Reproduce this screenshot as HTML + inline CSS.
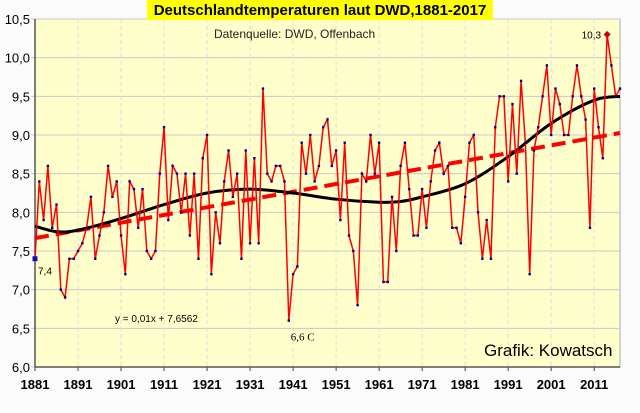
<!DOCTYPE html>
<html><head><meta charset="utf-8">
<style>
body{margin:0;width:640px;height:413px;background:#fbfbfb;overflow:hidden;font-family:"Liberation Sans",sans-serif}
svg{position:absolute;left:0;top:0}
</style></head><body>
<svg id="chart" width="640" height="413"></svg>
<script>
const years=[];for(let y=1881;y<=2017;y++)years.push(y);
const temps=[7.4,8.4,7.9,8.6,7.8,8.1,7.0,6.9,7.4,7.4,7.5,7.6,7.8,8.2,7.4,7.7,8.0,8.6,8.2,8.4,
7.7,7.2,8.4,8.3,7.8,8.3,7.5,7.4,7.5,8.5,9.1,7.9,8.6,8.5,8.0,8.5,7.7,8.5,7.4,8.7,
9.0,7.2,8.0,7.6,8.4,8.8,8.2,8.5,7.4,8.8,7.6,8.7,7.6,9.6,8.5,8.4,8.6,8.6,8.4,6.6,
7.2,7.3,8.9,8.5,9.0,8.4,8.6,9.1,9.2,8.6,8.8,7.9,8.9,7.7,7.5,6.8,8.5,8.4,9.0,8.5,
8.9,7.1,7.1,8.2,7.5,8.6,8.9,8.3,7.7,7.7,8.3,7.8,8.4,8.8,8.9,8.5,8.6,7.8,7.8,7.6,
8.2,8.9,9.0,8.0,7.4,7.9,7.4,9.1,9.5,9.5,8.4,9.4,8.5,9.7,8.9,7.2,8.8,9.1,9.5,9.9,
9.0,9.6,9.4,9.0,9.0,9.5,9.9,9.5,9.2,7.8,9.6,9.1,8.7,10.3,9.9,9.5,9.6];
const smoothYears=[1881,1886,1891,1901,1911,1921,1931,1941,1951,1961,1966,1971,1981,1991,2001,2011,2017];
const smoothVals=[7.82,7.75,7.77,7.92,8.1,8.25,8.3,8.25,8.17,8.13,8.14,8.2,8.37,8.72,9.15,9.45,9.5];
const trendSlope=0.01, trendIntercept=7.6562;
const yTicks=[6.0,6.5,7.0,7.5,8.0,8.5,9.0,9.5,10.0,10.5];
const xTicks=[1881,1891,1901,1911,1921,1931,1941,1951,1961,1971,1981,1991,2001,2011];

const L=35,R=620,T=19,B=367;
const X=y=>L+(y-1881)*(R-L)/(2017-1881);
const Y=v=>B-(v-6)*(B-T)/4.5;
const svg=document.getElementById('chart');
const NS='http://www.w3.org/2000/svg';
function mk(tag,attrs,name){const e=document.createElementNS(NS,tag);for(const k in attrs)e.setAttribute(k,attrs[k]);


svg.appendChild(e);return e;}
mk('rect',{x:L,y:T,width:R-L,height:B-T,fill:'#ffffcc',stroke:'#aaa','stroke-width':1},'plot-area');
yTicks.forEach(v=>{mk('line',{x1:L-4,x2:R,y1:Y(v),y2:Y(v),stroke:'#c8c8c8','stroke-width':1},'y-gridline');
const t=mk('text',{x:L-5,y:Y(v)+5,'text-anchor':'end','font-size':13,fill:'#000'},'y-tick-label');t.textContent=v.toFixed(1).replace('.',',');});
xTicks.forEach(yr=>{if(yr>1881)mk('line',{x1:X(yr),x2:X(yr),y1:T,y2:B,stroke:'#ddd','stroke-dasharray':'4,3'},'x-gridline');
mk('line',{x1:X(yr),x2:X(yr),y1:B,y2:B+4,stroke:'#444'},'x-tick');
const t=mk('text',{x:X(yr),y:B+22,'text-anchor':'middle','font-size':13,'font-weight':'bold',fill:'#000'},'x-tick-label');t.textContent=yr;});
mk('line',{x1:L,x2:L,y1:T,y2:B,stroke:'#555','stroke-width':1.5},'y-axis');
mk('line',{x1:L,x2:R,y1:B,y2:B,stroke:'#555','stroke-width':1.5},'x-axis');
// trend
mk('line',{x1:X(1881),y1:Y(trendIntercept+trendSlope),x2:X(2017),y2:Y(trendIntercept+trendSlope*137),stroke:'#ff0000','stroke-width':4,'stroke-dasharray':'14,7'},'trend-line');
// smooth curve
const sp=smoothYears.map((y,i)=>[X(y),Y(smoothVals[i])]);
let d='M'+sp[0][0]+','+sp[0][1];
for(let i=0;i<sp.length-1;i++){const p0=sp[Math.max(0,i-1)],p1=sp[i],p2=sp[i+1],p3=sp[Math.min(sp.length-1,i+2)];
d+=` C${p1[0]+(p2[0]-p0[0])/6},${p1[1]+(p2[1]-p0[1])/6} ${p2[0]-(p3[0]-p1[0])/6},${p2[1]-(p3[1]-p1[1])/6} ${p2[0]},${p2[1]}`;}
mk('path',{d:d,fill:'none',stroke:'#000','stroke-width':3},'smoothed-curve');
// series
mk('polyline',{points:temps.map((v,i)=>X(years[i])+','+Y(v)).join(' '),fill:'none',stroke:'#ff0000','stroke-width':1.5},'temperature-line');
temps.forEach((v,i)=>{mk('rect',{x:X(years[i])-1.2,y:Y(v)-1.2,width:2.4,height:2.4,fill:'#00008b'},'temperature-point');});
mk('rect',{x:X(1881)-2.5,y:Y(temps[0])-2.5,width:5,height:5,fill:'#1010c0'},'first-point-marker');
const mx=temps.indexOf(Math.max(...temps));
mk('rect',{x:X(years[mx])-2.5,y:Y(temps[mx])-2.5,width:5,height:5,fill:'#cc0000',transform:`rotate(45 ${X(years[mx])} ${Y(temps[mx])})`},'max-point-marker');
function txt(s,a,n){const t=mk('text',a,n);t.textContent=s;}
txt('7,4',{x:38,y:Y(7.4)+16,'font-size':10},'label-first');
txt('10,3',{x:X(years[mx])-6,y:Y(temps[mx])+4,'font-size':10,'text-anchor':'end'},'label-max');
const mn=temps.indexOf(Math.min(...temps));
txt('6,6 C',{x:X(years[mn])+2,y:Y(temps[mn])+20,'font-size':11,'font-family':'Liberation Serif'},'label-min');
txt('y = 0,01x + 7,6562',{x:115,y:322,'font-size':10},'trend-equation');
txt('Datenquelle: DWD, Offenbach',{x:214,y:38,'font-size':12,fill:'#222'},'data-source');
txt('Grafik: Kowatsch',{x:484,y:356,'font-size':17},'credit');
mk('rect',{x:147,y:0,width:346,height:20,fill:'#ffff00'},'title-box');
txt('Deutschlandtemperaturen laut DWD,1881-2017',{x:320,y:15,'font-size':15,'font-weight':'bold','text-anchor':'middle',fill:'#000'},'chart-title');
</script>
</body></html>
